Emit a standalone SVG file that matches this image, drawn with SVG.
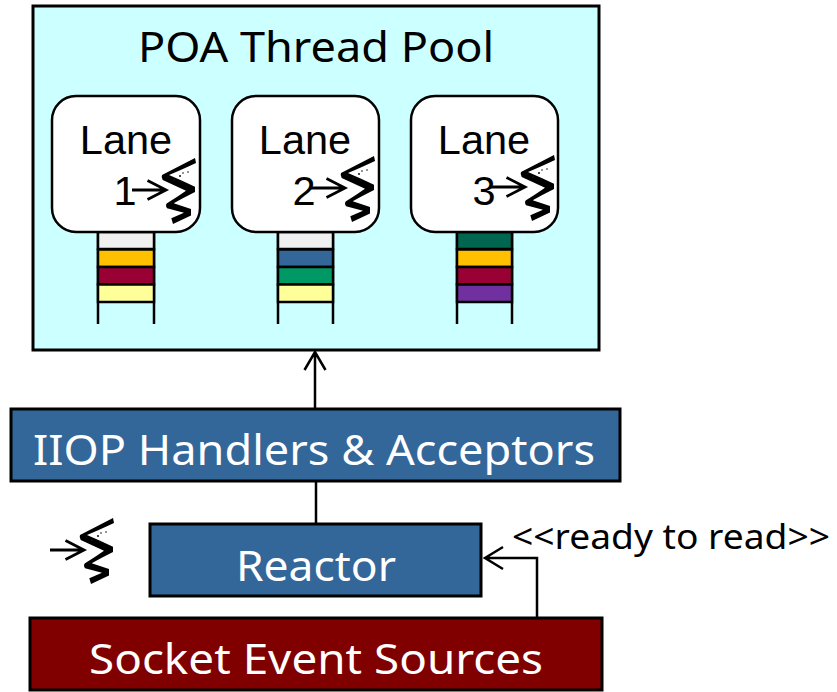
<svg xmlns="http://www.w3.org/2000/svg" width="837" height="692" viewBox="0 0 837 692">
<style>
.t{font-family:"Noto Sans","Open Sans",sans-serif;font-size:41px;text-anchor:middle}
.l{font-family:"Liberation Sans",Arial,sans-serif;font-size:41.500px;text-anchor:middle;fill:#000}
.box{stroke:#000;stroke-width:3}
.lane{fill:#fff;stroke:#000;stroke-width:2.500}
.st{stroke:#000;stroke-width:2.500}
.rail{stroke:#000;stroke-width:2.500;fill:none}
.con{stroke:#000;stroke-width:2.500;fill:none}
</style>
<defs>
<g id="thread">
<path d="M-34 0H0M-18.500-9.500L0 0L-18.500 9.500" fill="none" stroke="#000" stroke-width="2.800"/>
<path d="M29-32L30-27Q15-20 3-15Q17-9 29-3.300L29 2Q17 8 7.700 13.300L25 19L25 25.500L7 34L5.300 28.300L18 22.700L1 18.300Q-1 15 1 13.300Q11 7 20 .7L-3.300-10Q-5-13-4-15Z" fill="#000"/>
<g fill="#111"><circle cx="8" cy="-10" r=".9"/><circle cx="14" cy="-14" r="1"/><circle cx="22" cy="-18" r=".8"/><circle cx="16" cy="-8" r="1"/><circle cx="5" cy="13" r=".8"/><circle cx="17" cy="-17" r=".8"/><circle cx="2" cy="-13" r=".8"/></g>
</g>
</defs>

<g id="connectors">
<path class="con" d="M315 408V352M304.500 370L315 352L325.500 370"/>
<path class="con" d="M316 481V524"/>
<path class="con" d="M537 617V558H485M503 547L485 558L503 569"/>
</g>

<g id="pool">
<rect x="33" y="6" width="566" height="344" fill="#ccffff" class="box"/>
<text class="t" x="316" y="62" textLength="356" lengthAdjust="spacingAndGlyphs">POA Thread Pool</text>
</g>

<g id="lane1">
<path class="rail" d="M98 232V324M154 232V324"/>
<rect class="st" x="98" y="232" width="56" height="17" fill="#f0f0f0"/>
<rect class="st" x="98" y="249.500" width="56" height="17.500" fill="#ffc000"/>
<rect class="st" x="98" y="267" width="56" height="17.500" fill="#990033"/>
<rect class="st" x="98" y="284.500" width="56" height="17.500" fill="#ffff99"/>
<rect class="lane" x="52" y="96" width="148" height="136" rx="24"/>
<text class="l" x="126" y="154">Lane</text>
<text class="l" x="125" y="205">1</text>
<use href="#thread" x="166" y="190"/>
</g>

<g id="lane2">
<path class="rail" d="M278 232V324M333 232V324"/>
<rect class="st" x="278" y="232" width="55" height="17" fill="#f0f0f0"/>
<rect class="st" x="278" y="249.500" width="55" height="17.500" fill="#336699"/>
<rect class="st" x="278" y="267" width="55" height="17.500" fill="#009966"/>
<rect class="st" x="278" y="284.500" width="55" height="17.500" fill="#ffff99"/>
<rect class="lane" x="232" y="96" width="147" height="136" rx="24"/>
<text class="l" x="305" y="154">Lane</text>
<text class="l" x="304" y="205">2</text>
<use href="#thread" x="345" y="188"/>
</g>

<g id="lane3">
<path class="rail" d="M457 232V324M512 232V324"/>
<rect class="st" x="457" y="232" width="55" height="17" fill="#006650"/>
<rect class="st" x="457" y="249.500" width="55" height="17.500" fill="#ffc000"/>
<rect class="st" x="457" y="267" width="55" height="17.500" fill="#990033"/>
<rect class="st" x="457" y="284.500" width="55" height="17.500" fill="#7030a0"/>
<rect class="lane" x="411" y="96" width="147" height="136" rx="24"/>
<text class="l" x="484" y="154">Lane</text>
<text class="l" x="484" y="205">3</text>
<use href="#thread" x="525" y="187"/>
</g>

<g id="iiop">
<rect x="11" y="409" width="609" height="72" fill="#336699" class="box"/>
<text class="t" x="314" y="465" fill="#fff" textLength="562" lengthAdjust="spacingAndGlyphs">IIOP Handlers &amp; Acceptors</text>
</g>

<g id="reactor">
<rect x="150" y="524" width="331" height="72" fill="#336699" class="box"/>
<text class="t" x="316" y="581" fill="#fff" textLength="160" lengthAdjust="spacingAndGlyphs">Reactor</text>
</g>

<g id="sockets">
<rect x="30" y="618" width="572" height="72" fill="#800000" class="box"/>
<text class="t" x="316" y="674" fill="#fff" textLength="454" lengthAdjust="spacingAndGlyphs">Socket Event Sources</text>
</g>

<g id="reactor-thread">
<use href="#thread" x="84" y="550"/>
</g>

<text class="t" x="671" y="549" style="font-size:34px" textLength="318" lengthAdjust="spacingAndGlyphs">&lt;&lt;ready to read&gt;&gt;</text>
</svg>
